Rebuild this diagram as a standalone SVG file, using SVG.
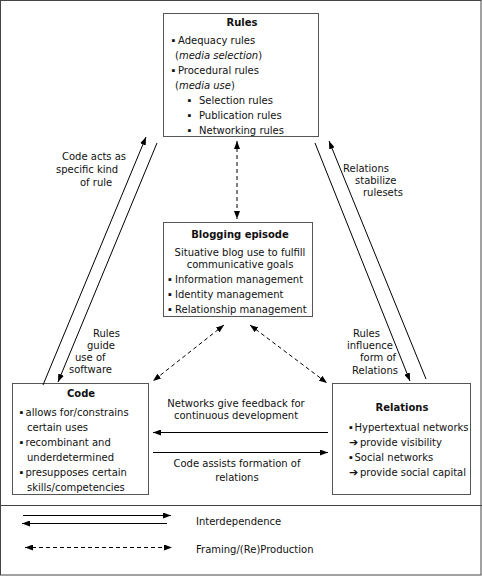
<svg xmlns="http://www.w3.org/2000/svg" width="482" height="576" viewBox="0 0 482 576">
<style>
text{font-family:"DejaVu Sans","Verdana",sans-serif;font-size:10px;fill:#111;}
.b{font-weight:bold;}
.c{text-anchor:middle;}
.bu{font-size:5.5px;}
.ar{font-size:11px;font-weight:bold;}
.box{fill:#fff;stroke:#555;stroke-width:1;}
.ln{stroke:#000;stroke-width:1;fill:none;}
.dl{stroke:#000;stroke-width:1;fill:none;stroke-dasharray:4 3;}
</style>
<defs>
<marker id="ah" viewBox="0 0 8 6" refX="8" refY="3" markerWidth="8" markerHeight="6" markerUnits="userSpaceOnUse" orient="auto">
<path d="M0,0 L8,3 L0,6 z" fill="#000"/>
</marker>
<marker id="as" viewBox="0 0 8 6" refX="0" refY="3" markerWidth="8" markerHeight="6" markerUnits="userSpaceOnUse" orient="auto">
<path d="M8,0 L0,3 L8,6 z" fill="#000"/>
</marker>
</defs>
<rect x="0.5" y="0.5" width="480.5" height="574.5" fill="#fff" stroke="#444"/>
<line x1="0" y1="505.5" x2="482" y2="505.5" stroke="#444"/>

<g id="rules">
<rect class="box" x="163.5" y="13.5" width="155" height="123"/>
<text class="b c" x="242" y="26">Rules</text>
<text y="44"><tspan class="bu" x="171.5" dy="-2">▪</tspan><tspan x="178" dy="2">Adequacy rules</tspan></text>
<text x="175" y="59">(<tspan font-style="italic">media selection</tspan>)</text>
<text y="74"><tspan class="bu" x="171.5" dy="-2">▪</tspan><tspan x="178" dy="2">Procedural rules</tspan></text>
<text x="175" y="89">(<tspan font-style="italic">media use</tspan>)</text>
<text y="104"><tspan class="bu" x="187.5" dy="-2">▪</tspan><tspan x="199" dy="2">Selection rules</tspan></text>
<text y="119"><tspan class="bu" x="187.5" dy="-2">▪</tspan><tspan x="199" dy="2">Publication rules</tspan></text>
<text y="134"><tspan class="bu" x="187.5" dy="-2">▪</tspan><tspan x="199" dy="2">Networking rules</tspan></text>
</g>

<g id="blogging">
<rect class="box" x="163.5" y="222.5" width="149" height="94"/>
<text class="b c" x="240" y="238">Blogging episode</text>
<text class="c" x="240" y="256">Situative blog use to fulfill</text>
<text class="c" x="240" y="268">communicative goals</text>
<text y="283"><tspan class="bu" x="168" dy="-2">▪</tspan><tspan x="175" dy="2">Information management</tspan></text>
<text y="298"><tspan class="bu" x="168" dy="-2">▪</tspan><tspan x="175" dy="2">Identity management</tspan></text>
<text y="313"><tspan class="bu" x="168" dy="-2">▪</tspan><tspan x="175" dy="2">Relationship management</tspan></text>
</g>

<g id="code">
<rect class="box" x="12.5" y="383.5" width="136" height="111"/>
<text class="b c" x="81" y="397">Code</text>
<text y="416"><tspan class="bu" x="19.5" dy="-2">▪</tspan><tspan x="25.5" dy="2">allows for/constrains</tspan></text>
<text x="27" y="431">certain uses</text>
<text y="446"><tspan class="bu" x="19.5" dy="-2">▪</tspan><tspan x="25.5" dy="2">recombinant and</tspan></text>
<text x="27" y="461">underdetermined</text>
<text y="476"><tspan class="bu" x="19.5" dy="-2">▪</tspan><tspan x="25.5" dy="2">presupposes certain</tspan></text>
<text x="27" y="491">skills/competencies</text>
</g>

<g id="relations">
<rect class="box" x="332.5" y="383.5" width="138" height="111"/>
<text class="b c" x="402" y="411">Relations</text>
<text y="431"><tspan class="bu" x="349" dy="-2">▪</tspan><tspan x="354.5" dy="2">Hypertextual networks</tspan></text>
<text y="446"><tspan class="ar" x="349">➔</tspan><tspan x="360">provide visibility</tspan></text>
<text y="461"><tspan class="bu" x="349" dy="-2">▪</tspan><tspan x="354.5" dy="2">Social networks</tspan></text>
<text y="476"><tspan class="ar" x="349">➔</tspan><tspan x="360">provide social capital</tspan></text>
</g>

<g id="connectors">
<line class="ln" x1="43" y1="385" x2="146" y2="137" marker-end="url(#ah)"/>
<line class="ln" x1="157" y1="143" x2="58" y2="382" marker-end="url(#ah)"/>
<line class="ln" x1="315" y1="143" x2="410" y2="381" marker-end="url(#ah)"/>
<line class="ln" x1="426" y1="379" x2="329" y2="141" marker-end="url(#ah)"/>
<line class="dl" x1="237" y1="141" x2="237" y2="219" marker-start="url(#as)" marker-end="url(#ah)"/>
<line class="dl" x1="224" y1="325" x2="153" y2="381" marker-start="url(#as)" marker-end="url(#ah)"/>
<line class="dl" x1="250" y1="325" x2="327" y2="383" marker-start="url(#as)" marker-end="url(#ah)"/>
<line class="ln" x1="328" y1="432.5" x2="153" y2="432.5" marker-end="url(#ah)"/>
<line class="ln" x1="153" y1="452.5" x2="328" y2="452.5" marker-end="url(#ah)"/>
</g>

<g id="labels">
<text x="62" y="160">Code acts as</text>
<text x="56" y="173">specific kind</text>
<text x="80" y="186">of rule</text>
<text x="93" y="337">Rules</text>
<text x="87" y="349">guide</text>
<text x="75" y="361">use of</text>
<text x="69" y="373">software</text>
<text x="343" y="172">Relations</text>
<text x="355" y="184">stabilize</text>
<text x="363" y="196">rulesets</text>
<text x="353" y="337">Rules</text>
<text x="347" y="349">influence</text>
<text x="360" y="361">form of</text>
<text x="352" y="374">Relations</text>
<text class="c" x="236" y="407">Networks give feedback for</text>
<text class="c" x="236" y="419">continuous development</text>
<text class="c" x="237" y="467">Code assists formation of</text>
<text class="c" x="237" y="481">relations</text>
</g>

<g id="legend">
<line class="ln" x1="23" y1="515.5" x2="171" y2="515.5" marker-end="url(#ah)"/>
<line class="ln" x1="167" y1="523.5" x2="22" y2="523.5" marker-end="url(#ah)"/>
<line class="dl" x1="25" y1="547.5" x2="172" y2="547.5" marker-start="url(#as)" marker-end="url(#ah)"/>
<text x="196" y="525">Interdependence</text>
<text x="196" y="553">Framing/(Re)Production</text>
</g>
</svg>
